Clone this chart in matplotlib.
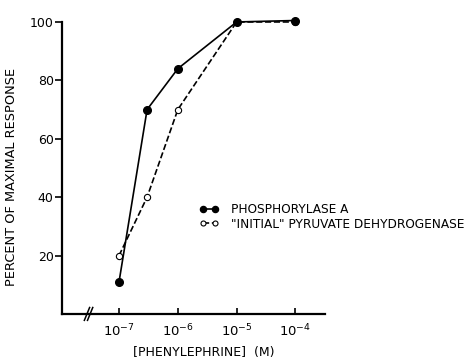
import matplotlib
matplotlib.use('Agg')
import matplotlib.pyplot as plt

### values
conc = [1e-7, 3e-7, 1e-6, 1e-5, 1e-4]
phosphorylase = [11, 70, 84, 100, 100.5]
pdh_initial = [20, 40, 70, 100, 100]
yticks = [20, 40, 60, 80, 100]
xticks = [1e-7, 1e-6, 1e-5, 1e-4]
xticklabels = ['$10^{-7}$', '$10^{-6}$', '$10^{-5}$', '$10^{-4}$']

plt.rcParams['font.family'] = ['DejaVu Sans']

fig = plt.figure(figsize=(4.77, 3.6), dpi=100)
ax = fig.add_axes([0.130, 0.128, 0.551, 0.811])

ax.plot(conc, pdh_initial, '--', color='black', lw=1.2, marker='o', ms=4.5,
        mfc='white', mec='black', mew=0.8, clip_on=False, zorder=3,
        label='"INITIAL" PYRUVATE DEHYDROGENASE')
ax.plot(conc, phosphorylase, '-', color='black', lw=1.2, marker='o', ms=5.5,
        mfc='black', mec='black', clip_on=False, zorder=4, label='PHOSPHORYLASE A')

ax.set_xscale('log')
ax.set_xlim(10 ** -7.97, 10 ** -3.5)
ax.set_ylim(0, 100)
ax.set_xticks(xticks)
ax.set_xticklabels(xticklabels, fontsize=9.5)
ax.minorticks_off()
ax.set_yticks(yticks)
ax.set_yticklabels([str(v) for v in yticks], fontsize=9)
ax.tick_params(axis='y', direction='out', length=5, width=1.2, pad=1)
ax.tick_params(axis='x', direction='in', length=4, width=1.2, pad=6)

for s in ['top', 'right']:
    ax.spines[s].set_visible(False)
for s in ['left', 'bottom']:
    ax.spines[s].set_linewidth(1.6)

### axis break mark
for dx in (0.0, 0.012):
    ax.plot([0.085 + dx, 0.105 + dx], [-0.022, 0.022], color='black', lw=1.1,
            transform=ax.transAxes, clip_on=False)

ax.set_ylabel('PERCENT OF MAXIMAL RESPONSE', fontsize=9.3)
ax.yaxis.set_label_coords(-0.167, 0.47)
ax.set_xlabel('[PHENYLEPHRINE]  (M)', fontsize=9)
ax.xaxis.set_label_coords(0.54, -0.11)

handles, labels = ax.get_legend_handles_labels()
ax.legend(handles[::-1], labels[::-1], loc='upper left', bbox_to_anchor=(0.395, 0.465),
          bbox_transform=fig.transFigure, frameon=False, fontsize=8.7,
          handlelength=1.6, handletextpad=1.0, labelspacing=0.1,
          numpoints=2, markerscale=0.8)

plt.savefig('out.png', dpi=100)
